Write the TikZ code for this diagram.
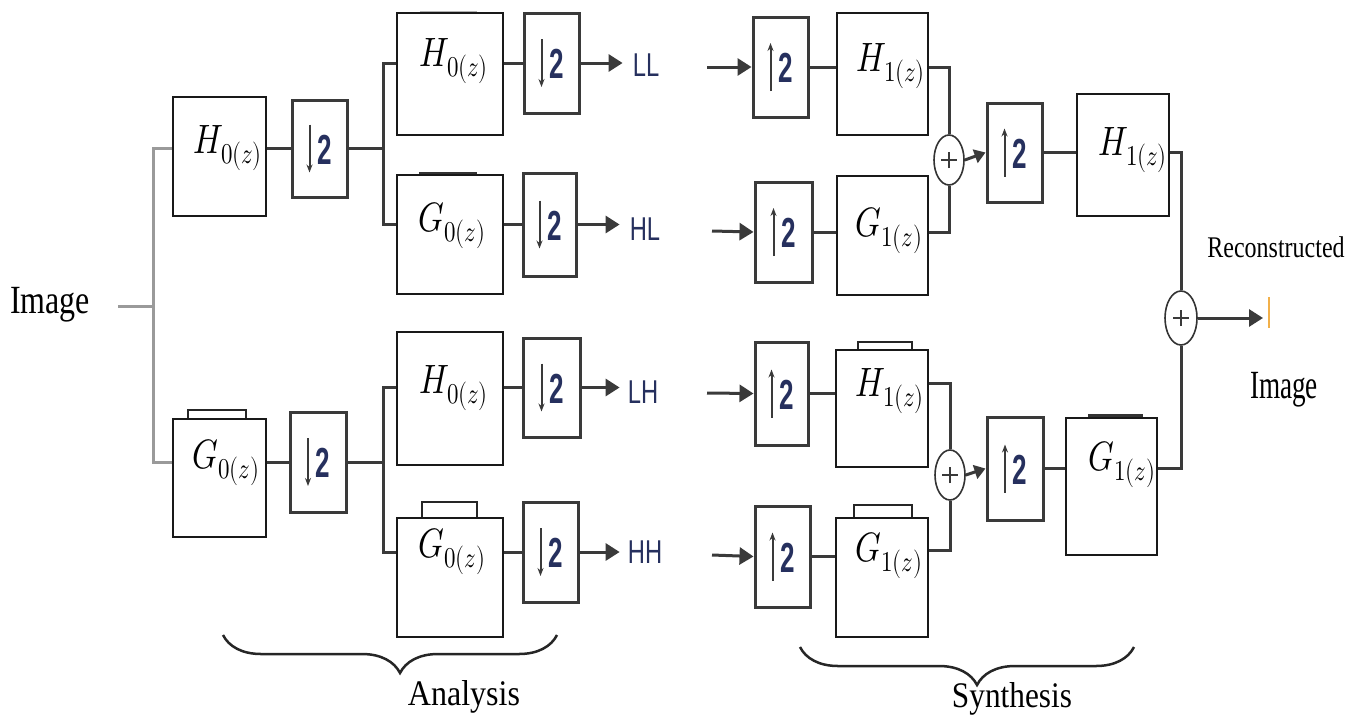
\documentclass[tikz,border=0pt]{standalone}
\usepackage{fontspec}
\usepackage{unicode-math}
\usepackage{graphicx}
\usetikzlibrary{arrows.meta,decorations.pathreplacing,shapes.geometric}
\newfontfamily\rmc{Liberation Serif}
\newfontfamily\sfc{Liberation Sans}
\definecolor{ln}{HTML}{3A3A3A}
\definecolor{lg}{HTML}{9A9A9A}
\definecolor{nv}{HTML}{26305E}
\definecolor{org}{HTML}{F2B04A}
\newcommand\fl[1]{\scalebox{0.8}[1]{\fontsize{41}{44}\selectfont$#1$}}
\newcommand\tx[3]{\scalebox{#2}[1]{\rmc\fontsize{#1}{#1}\selectfont #3}}
\newcommand\bx[6]{\node[#6,minimum width={(#4)-(#2)},minimum height={(#5)-(#3)}] (#1) at ({((#2)+(#4))/2},{((#3)+(#5))/2}) {};}
\newcommand\dn[1]{%
  \draw[line width=2pt,ln,-{Stealth[length=8pt,width=6pt]}] ([xshift=-10pt,yshift=24pt]#1.center) -- ([xshift=-10pt,yshift=-24pt]#1.center);
  \node[inner sep=0,text=nv] at ([xshift=5pt,yshift=-1pt]#1.center) {\scalebox{0.62}[1]{\sfc\bfseries\fontsize{42}{42}\selectfont 2}};}
\newcommand\up[1]{%
  \draw[line width=2pt,ln,-{Stealth[length=8pt,width=6pt]}] ([xshift=-10pt,yshift=-24pt]#1.center) -- ([xshift=-10pt,yshift=24pt]#1.center);
  \node[inner sep=0,text=nv] at ([xshift=5pt,yshift=-1pt]#1.center) {\scalebox{0.62}[1]{\sfc\bfseries\fontsize{42}{42}\selectfont 2}};}
\newcommand\plus[1]{%
  \draw[line width=2pt,ln] ([xshift=-8pt]#1.center) -- ([xshift=8pt]#1.center);
  \draw[line width=2pt,ln] ([yshift=-8pt]#1.center) -- ([yshift=8pt]#1.center);}
\begin{document}
\begin{tikzpicture}[x=1pt,y=-1pt,
  filt/.style={draw=black!90,line width=1.6pt,fill=white,inner sep=0},
  samp/.style={draw=ln,line width=3pt,fill=white,inner sep=0},
  tabb/.style={draw=black!85,line width=1.8pt,fill=white},
  conn/.style={draw=ln,line width=3pt},
  gconn/.style={draw=lg,line width=3pt},
  arr/.style={conn,-{Triangle[length=14pt,width=17pt]}},
  sarr/.style={conn,-{Triangle[length=11pt,width=14pt]}},
  sum/.style={ellipse,draw=black!80,line width=1.6pt,fill=white,inner sep=0},
  lbl/.style={inner sep=0},
  sub/.style={inner sep=0,text=nv},
  brc/.style={draw=black!85,line width=2.5pt,decorate,decoration={brace,mirror,amplitude=38pt,aspect=0.53}},
]
\useasboundingbox (0,0) rectangle (1356,718);

% ---------- tabs ----------
\draw[tabb] (188,410) rectangle (246,419);
\draw[black!80,line width=3pt] (419,173) -- (477,173);
\draw[black!30,line width=1.5pt] (420,12) -- (477,12);
\draw[tabb] (422,502) rectangle (477,518);
\draw[tabb] (858,342) rectangle (912,350);
\draw[tabb] (854,505) rectangle (912,518);
\draw[black!80,line width=3pt] (1088,415) -- (1143,415);

% ---------- analysis stage 1 ----------
\node[lbl] (img) at (50,305) {\tx{40}{0.8}{Image}};
\bx{H0a}{173}{97}{266}{216}{filt}
\bx{D1}{292}{100}{347}{197}{samp}
\bx{G0a}{173}{419}{266}{537}{filt}
\bx{D2}{290}{412}{346}{512}{samp}
\coordinate (in0) at (118,306);
\coordinate (j0) at (153,306);
\draw[gconn] (in0) -- (j0);
\draw[gconn] (H0a.west |- D1) -| (j0) |- (G0a.west |- D2);
\draw[conn] (H0a.east |- D1) -- (D1.west);
\draw[conn] (G0a.east |- D2) -- (D2.west);
\node[lbl] (tH0a) at (228,148) {\fl{H_{0(z)}}};
\node[lbl] (tG0a) at (226,463) {\fl{G_{0(z)}}};
\dn{D1}\dn{D2}

% ---------- analysis stage 2 ----------
\bx{H0b}{397}{13}{503}{135}{filt}
\bx{D3}{524}{13}{579}{113}{samp}
\bx{G0b}{397}{175}{503}{294}{filt}
\bx{D4}{523}{173}{576}{276}{samp}
\bx{H0c}{397}{332}{503}{465}{filt}
\bx{D5}{523}{338}{580}{437}{samp}
\bx{G0c}{397}{518}{503}{637}{filt}
\bx{D6}{523}{502}{578}{602}{samp}
\coordinate (j1) at (383,148.5);
\coordinate (j2) at (383,462);
\draw[conn] (D1.east) -- (j1);
\draw[conn] (D2.east) -- (j2);
\draw[conn] (H0b.west |- D3) -| (j1) |- (G0b.west |- D4);
\draw[conn] (H0c.west |- D5) -| (j2) |- (G0c.west |- D6);
\draw[conn] (H0b.east |- D3) -- (D3.west);
\draw[conn] (G0b.east |- D4) -- (D4.west);
\draw[conn] (H0c.east |- D5) -- (D5.west);
\draw[conn] (G0c.east |- D6) -- (D6.west);
\node[lbl] (tH0b) at (454,61) {\fl{H_{0(z)}}};
\node[lbl] (tG0b) at (452,226) {\fl{G_{0(z)}}};
\node[lbl] (tH0c) at (454,388) {\fl{H_{0(z)}}};
\node[lbl] (tG0c) at (452,552) {\fl{G_{0(z)}}};
\dn{D3}\dn{D4}\dn{D5}\dn{D6}
\node[sub] (LL) at (646,65) {\scalebox{0.72}[1]{\sfc\fontsize{33}{33}\selectfont LL}};
\node[sub] (HL) at (645,229) {\scalebox{0.72}[1]{\sfc\fontsize{33}{33}\selectfont HL}};
\node[sub] (LH) at (643,392) {\scalebox{0.72}[1]{\sfc\fontsize{33}{33}\selectfont LH}};
\node[sub] (HH) at (645,552) {\scalebox{0.72}[1]{\sfc\fontsize{33}{33}\selectfont HH}};
\draw[arr,shorten >=10pt] (D3.east) -- (LL.west |- D3);
\draw[arr,shorten >=10pt] (D4.east) -- (HL.west |- D4);
\draw[arr,shorten >=8pt] (D5.east) -- (LH.west |- D5);
\draw[arr,shorten >=8pt] (D6.east) -- (HH.west |- D6);

% ---------- synthesis ----------
\bx{U1}{753}{17}{808}{117}{samp}
\bx{H1a}{837}{13}{928}{135}{filt}
\bx{U2}{755}{182}{812}{282}{samp}
\bx{G1a}{837}{176}{928}{295}{filt}
\bx{U4}{755}{342}{808}{445}{samp}
\bx{H1b}{836}{350}{928}{467}{filt}
\bx{U5}{755}{506}{810}{607}{samp}
\bx{G1b}{836}{518}{928}{637}{filt}
\node[sum,minimum width=30pt,minimum height=50pt] (S1) at (949,160) {};
\node[sum,minimum width=30pt,minimum height=50pt] (S2) at (950,475) {};
\bx{U3}{987}{103}{1042}{202}{samp}
\bx{U6}{987}{417}{1043}{520}{samp}
\bx{H1c}{1077}{94}{1169}{216}{filt}
\bx{G1c}{1066}{418}{1157}{555}{filt}
\node[sum,minimum width=32pt,minimum height=54pt] (S3) at (1181,318) {};
\coordinate (s1) at (707,67);
\coordinate (s2) at (712,231);
\coordinate (s4) at (707,393);
\coordinate (s5) at (712,555);
\draw[arr] (s1) -- (U1.west);
\draw[arr] (s2) -- (U2.west);
\draw[arr] (s4) -- (U4.west);
\draw[arr] (s5) -- (U5.west);
\draw[conn] (U1.east) -- (H1a.west |- U1);
\draw[conn] (U2.east) -- (G1a.west |- U2);
\draw[conn] (U4.east) -- (H1b.west |- U4);
\draw[conn] (U5.east) -- (G1b.west |- U5);
\coordinate (k1) at (950,383);
\coordinate (k2) at (950,550);
\draw[conn] (H1a.east |- U1) -| (S1.north);
\draw[conn] (G1a.east |- U2) -| (S1.south);
\draw[conn] (H1b.east |- k1) -| (S2.north);
\draw[conn] (G1b.east |- k2) -| (S2.south);
\draw[sarr] (S1.east) -- (U3.west);
\draw[sarr] (S2.east) -- (U6.west);
\draw[conn] (U3.east) -- (H1c.west |- U3);
\draw[conn] (U6.east) -- (G1c.west |- U6);
\draw[conn] (H1c.east |- U3) -| (S3.north);
\draw[conn] (G1c.east |- U6) -| (S3.south);
\coordinate (out) at (1263,318);
\draw[arr] (S3.east) -- (out);
\draw[org,line width=1.5pt] (1269,297) -- (1269,328);
\plus{S1}\plus{S2}\plus{S3}
\up{U1}\up{U2}\up{U3}\up{U4}\up{U5}\up{U6}
\node[lbl] (tH1a) at (891,66) {\fl{H_{1(z)}}};
\node[lbl] (tG1a) at (889,231) {\fl{G_{1(z)}}};
\node[lbl] (tH1b) at (890,391) {\fl{H_{1(z)}}};
\node[lbl] (tG1b) at (889,556) {\fl{G_{1(z)}}};
\node[lbl] (tH1c) at (1133,150) {\fl{H_{1(z)}}};
\node[lbl] (tG1c) at (1122,465) {\fl{G_{1(z)}}};
\node[lbl] (rec) at (1276,247) {\tx{30}{0.8}{Reconstructed}};
\node[lbl] (img2) at (1284,390) {\tx{40}{0.68}{Image}};

% ---------- braces ----------
\coordinate (ba1) at (223,635);
\coordinate (ba2) at (557,635);
\coordinate (bs1) at (800,647);
\coordinate (bs2) at (1134,647);
\draw[brc] (ba1) -- (ba2);
\draw[brc] (bs1) -- (bs2);
\node[lbl] (ana) at (464,697) {\tx{36}{0.89}{Analysis}};
\node[lbl] (syn) at (1012,699) {\tx{36}{0.87}{Synthesis}};
\end{tikzpicture}
\end{document}
